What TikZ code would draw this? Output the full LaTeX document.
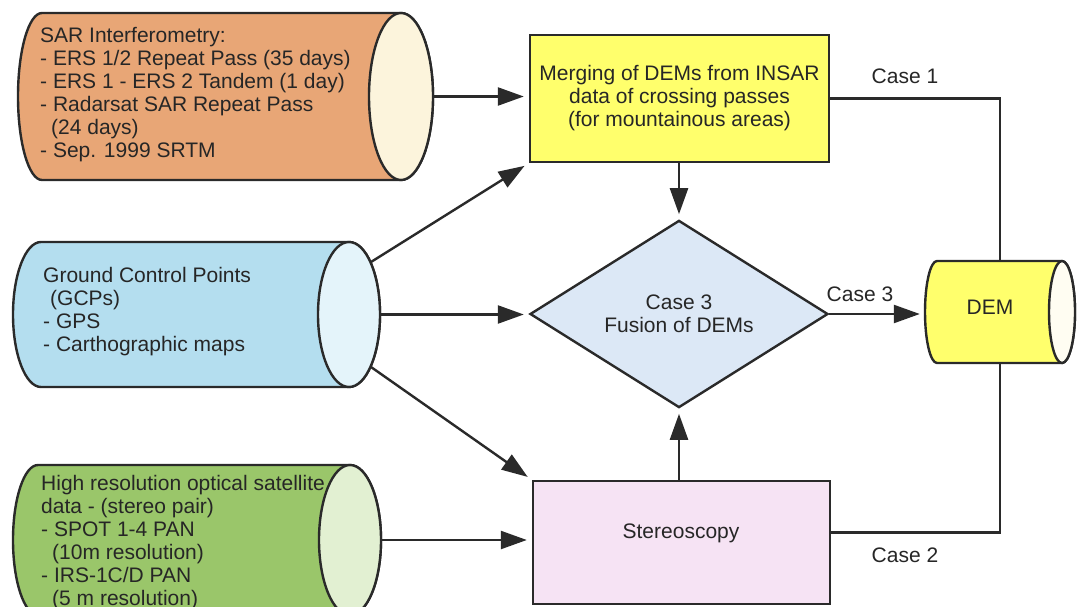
\documentclass[tikz,border=0pt]{standalone}
\usepackage{fontspec}
\setmainfont{Liberation Sans}
\usetikzlibrary{shapes.geometric,arrows.meta,calc}
\definecolor{orangeC}{HTML}{E8A676}
\definecolor{creamC}{HTML}{FCF4DC}
\definecolor{blueC}{HTML}{B4DEEF}
\definecolor{blueF}{HTML}{E4F4FA}
\definecolor{greenC}{HTML}{9AC66A}
\definecolor{greenF}{HTML}{E2F0D2}
\definecolor{yellowC}{HTML}{FFFF6C}
\definecolor{demF}{HTML}{FFFDF2}
\definecolor{diaC}{HTML}{DCE8F6}
\definecolor{pinkC}{HTML}{F6E3F4}
\definecolor{lineC}{HTML}{2A2A2A}
\definecolor{txtC}{HTML}{262626}
\tikzset{
 txt/.style={font=\fontsize{21}{23}\selectfont, text=txtC, inner sep=0pt},
 cylline/.style={draw=lineC, line width=2.4pt, line join=round},
 cylnode/.style={draw=none, inner sep=0pt},
 boxnode/.style={draw=lineC, line width=2.4pt, txt, align=center, inner sep=0pt},
 arr/.style={draw=lineC, line width=2.4pt, -{Triangle[length=26pt,width=18pt]}, shorten >=5pt},
 link/.style={draw=lineC, line width=2.4pt},
}
% #1 name, #2 xl, #3 xr, #4 yt, #5 yb, #6 rx left, #7 rx right, #8 body, #9 face
\newcommand\mycyl[9]{%
 \pgfmathsetmacro\cyym{(#4+#5)/2}%
 \pgfmathsetmacro\cyry{(#5-#4)/2}%
 \pgfmathsetmacro\cycx{((#2-#6)+(#3+#7))/2}%
 \pgfmathsetmacro\cyw{(#3+#7)-(#2-#6)}%
 \filldraw[cylline, fill=#8] (#2,#4) arc[start angle=90,end angle=270,x radius=#6pt,y radius=\cyry pt] -- (#3,#5) arc[start angle=-90,end angle=90,x radius=#7pt,y radius=\cyry pt] -- cycle;
 \filldraw[cylline, fill=#9] (#3,\cyym) ellipse[x radius=#7pt,y radius=\cyry pt];
 \node[cylnode, minimum width=\cyw pt, minimum height=2*\cyry pt] (#1) at (\cycx,\cyym) {};
}
\begin{document}
\begin{tikzpicture}[x=1pt,y=-1pt]
\useasboundingbox (0,0) rectangle (1084,607);
\fill[white] (0,0) rectangle (1084,607);
\clip (0,0) rectangle (1084,607);

% cylinders
\mycyl{sar}{42}{401}{13}{180}{24}{32}{orangeC}{creamC}
\mycyl{gcp}{41}{349}{242}{387}{28}{31}{blueC}{blueF}
\mycyl{hro}{38}{350}{465}{615}{25}{31}{greenC}{greenF}
\mycyl{dem}{937}{1062}{261}{363}{12}{13}{yellowC}{demF}

\node[txt, align=left, anchor=north west] (sartxt) at (40,27) {SAR Interferometry:\\- ERS 1/2 Repeat Pass (35 days)\\- ERS 1 - ERS 2 Tandem (1 day)\\- Radarsat SAR Repeat Pass\\\hspace*{11pt}(24 days)\\- Sep. 1999 SRTM};
\node[txt, align=left, anchor=north west] (gcptxt) at (43,267) {Ground Control Points\\\hspace*{7pt}(GCPs)\\- GPS\\- Carthographic maps};
\node[txt, align=left, anchor=north west] (hrotxt) at (41,475) {High resolution optical satellite\\data - (stereo pair)\\- SPOT 1-4 PAN\\\hspace*{11pt}(10m resolution)\\- IRS-1C/D PAN\\\hspace*{11pt}(5 m resolution)};
\node[txt] (demtxt) at (990,307) {DEM};

% process boxes
\node[boxnode, fill=yellowC, minimum width=299pt, minimum height=127pt] (merge) at (679.5,98.5) {Merging of DEMs from INSAR\\data of crossing passes\\(for mountainous areas)};
\node[boxnode, shape=diamond, fill=diaC, minimum width=298pt, minimum height=170pt] (fusion) at (679,314) {Case 3\\Fusion of DEMs};
\node[boxnode, fill=pinkC, minimum width=297pt, minimum height=123pt] (stereo) at (681.5,542.5) {};
\node[txt] (stereotxt) at (681,533) {Stereoscopy};

% labels
\node[txt] (c1) at (905,76) {Case 1};
\node[txt] (c3) at (860,294) {Case 3};
\node[txt] (c2) at (905,555) {Case 2};

% connectors
\coordinate (gcpA) at (371,262);
\coordinate (gcpB) at (371,367);
\draw[arr] (sar.east) -- (sar.east -| merge.west);
\draw[arr] (gcpA) -- (merge.south west);
\draw[arr] (gcp.east) -- (gcp.east -| fusion.west);
\draw[arr] (gcpB) -- (stereo.north west);
\draw[arr] (hro.east) -- (hro.east -| stereo.west);
\draw[arr] (merge.south -| fusion.north) -- (fusion.north);
\draw[arr] (fusion.south |- stereo.north) -- (fusion.south);
\draw[arr] (fusion.east) -- (fusion.east -| dem.west);
\draw[link] (merge.east) -| (dem.north);
\draw[link] ([yshift=10pt]stereo.east) -| (dem.south);
\end{tikzpicture}
\end{document}
